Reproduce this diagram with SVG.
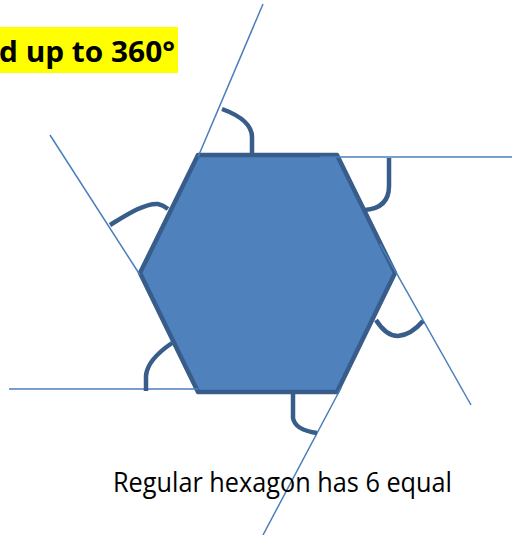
<svg xmlns="http://www.w3.org/2000/svg" width="512" height="535" viewBox="0 0 512 535">
<style>
.ext{stroke:#4a7ebb;stroke-width:1.5;fill:none}
.arc{stroke:#385d8a;stroke-width:4.5;fill:none;stroke-linecap:butt}
.hex{fill:#4f81bd;stroke:#385d8a;stroke-width:4.5;stroke-linejoin:round}
</style>
<rect width="512" height="535" fill="#ffffff"/>
<g id="title">
<rect x="0" y="27" width="178" height="46" fill="#ffff00"/>
<text x="-1" y="62" font-family="'Open Sans', 'Liberation Sans', Arial, sans-serif" font-weight="bold" font-size="29" textLength="176" lengthAdjust="spacingAndGlyphs" fill="#000">d up to 360°</text>
</g>
<g id="hexagon">
<polygon class="hex" points="198,155 337,155 395,273 337,392 198,392 140,273"/>
</g>
<g id="connectors">
<line class="ext" x1="263" y1="4" x2="198" y2="157"/>
<line class="ext" x1="320" y1="157" x2="512" y2="157"/>
<line class="ext" x1="380" y1="244" x2="471" y2="405"/>
<line class="ext" x1="341" y1="388" x2="263" y2="535"/>
<line class="ext" x1="9" y1="389" x2="198" y2="389"/>
<line class="ext" x1="50" y1="135" x2="140" y2="275"/>
</g>
<g id="angles">
<path class="arc" d="M222,109 Q252,120 252,137 L252,155"/>
<path class="arc" d="M389,158 L389,186 Q389,208 365,210"/>
<path class="arc" d="M110,225 C128,214 145,203 158,204 Q163,205 168,209"/>
<path class="arc" d="M376,320 Q386,336 398,336 Q411,335 423,321"/>
<path class="arc" d="M172,343 Q147,360 146,376 L146,391"/>
<path class="arc" d="M293,394 L293,418 Q295,430 317,433"/>
</g>
<g id="caption">
<text x="113" y="492" font-family="'Open Sans', 'Liberation Sans', Arial, sans-serif" font-size="27" textLength="339" lengthAdjust="spacingAndGlyphs" fill="#000">Regular hexagon has 6 equal</text>
</g>
</svg>
